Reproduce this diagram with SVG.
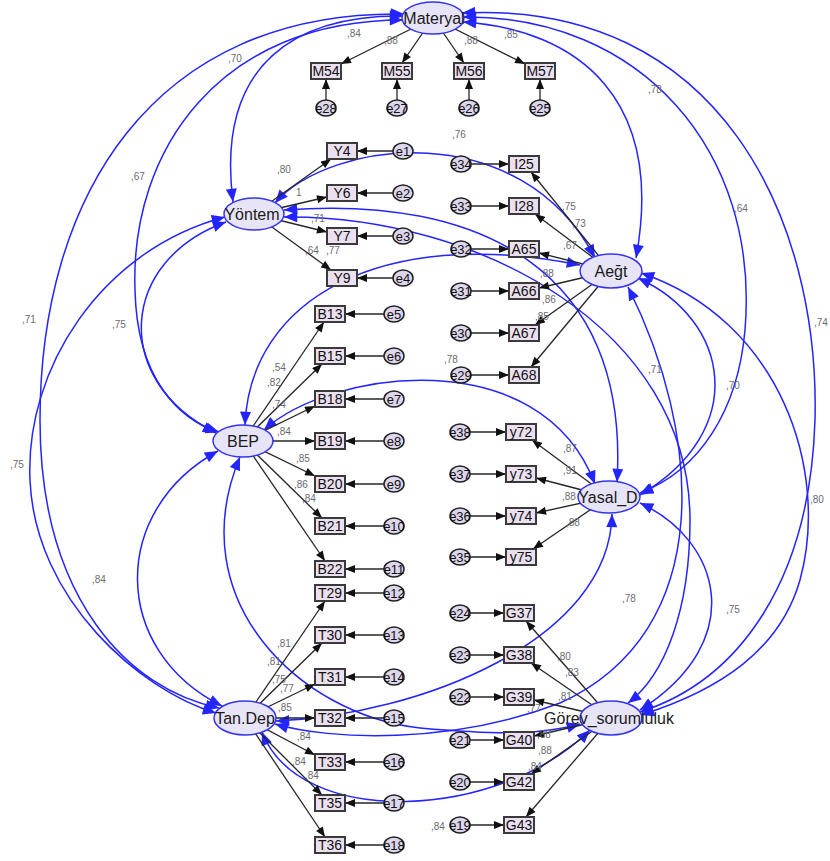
<svg xmlns="http://www.w3.org/2000/svg" width="830" height="861" viewBox="0 0 830 861">
<defs>
<style>
text{font-family:"Liberation Sans",Arial,sans-serif}
.cov{fill:none;stroke:#2424ff;stroke-width:1.5;marker-start:url(#ab);marker-end:url(#ab)}
.ld{stroke:#262626;stroke-width:1.3;marker-end:url(#ak)}
.ind rect{fill:#ebe0f0;stroke:#3a3a3a;stroke-width:2}
.ind text{font-size:14px;fill:#111;text-anchor:middle}
.lat ellipse{fill:#e8e4f7;stroke:#3434f0;stroke-width:1.5}
.lat text{font-size:16px;fill:#1a1a1a;text-anchor:middle}
.err ellipse{fill:#ddd6ec;stroke:#222;stroke-width:1.5}
.err text{font-size:13px;fill:#111;text-anchor:middle}
.num{font-size:10px;fill:#6a6a72}
</style>
<marker id="ab" viewBox="0 0 12 10" refX="12" refY="5" markerWidth="14" markerHeight="11" markerUnits="userSpaceOnUse" orient="auto-start-reverse"><path d="M0,0 L12,5 L0,10 z" fill="#2424ff"/></marker>
<marker id="ak" viewBox="0 0 10 8" refX="10" refY="4" markerWidth="11" markerHeight="8" markerUnits="userSpaceOnUse" orient="auto"><path d="M0,0 L10,4 L0,8 z" fill="#111"/></marker>
</defs>
<rect width="830" height="861" fill="#fff"/>
<g id="connectors">
<g id="covariances">
<path class="cov" d="M403 16 C300 15,215 60,233 202"/>
<path class="cov" d="M403 20 C220 20,130 150,135 290 C137 380,180 420,219 432"/>
<path class="cov" d="M404 14 C150 10,40 200,40 420 C40 600,130 690,219 708"/>
<path class="cov" d="M463 22 C580 30,665 100,636 258"/>
<path class="cov" d="M463 17 C640 15,760 150,745 330 C738 410,700 470,640 493"/>
<path class="cov" d="M462 13 C720 0,820 220,815 420 C810 580,740 680,640 712"/>
<path class="cov" d="M275 203 C330 140,520 115,595 258"/>
<path class="cov" d="M284 210 C480 195,630 270,617 482"/>
<path class="cov" d="M284 217 C480 215,690 330,690 520 C690 610,665 675,628 703"/>
<path class="cov" d="M226 222 C120 260,110 380,216 433"/>
<path class="cov" d="M225 217 C100 250,25 370,30 480 C35 600,140 690,216 713"/>
<path class="cov" d="M580 265 C380 225,250 300,245 425"/>
<path class="cov" d="M638 278 C730 320,750 430,640 495"/>
<path class="cov" d="M628 287 C700 430,720 630,560 703 C450 745,330 740,275 724"/>
<path class="cov" d="M641 273 C780 320,830 470,800 580 C780 650,720 690,641 715"/>
<path class="cov" d="M264 430 C330 370,540 340,595 484"/>
<path class="cov" d="M218 451 C110 510,110 650,222 706"/>
<path class="cov" d="M240 457 C180 600,300 715,420 728 C500 735,540 735,580 724"/>
<path class="cov" d="M276 721 C420 715,610 640,612 514"/>
<path class="cov" d="M640 503 C720 540,750 640,640 710"/>
<path class="cov" d="M262 732 C300 830,500 820,590 730"/>
</g>
<g id="loadings">
<line class="ld" x1="433" y1="18" x2="341" y2="64"/>
<line class="ld" x1="433" y1="18" x2="402" y2="63"/>
<line class="ld" x1="433" y1="18" x2="464" y2="63"/>
<line class="ld" x1="433" y1="18" x2="525" y2="64"/>
<line class="ld" x1="254" y1="214" x2="331" y2="159"/>
<line class="ld" x1="254" y1="214" x2="327" y2="197"/>
<line class="ld" x1="254" y1="214" x2="327" y2="232"/>
<line class="ld" x1="254" y1="214" x2="331" y2="270"/>
<line class="ld" x1="243" y1="441" x2="324" y2="322"/>
<line class="ld" x1="243" y1="441" x2="322" y2="364"/>
<line class="ld" x1="243" y1="441" x2="315" y2="406"/>
<line class="ld" x1="243" y1="441" x2="315" y2="441"/>
<line class="ld" x1="243" y1="441" x2="315" y2="476"/>
<line class="ld" x1="243" y1="441" x2="322" y2="518"/>
<line class="ld" x1="243" y1="441" x2="325" y2="561"/>
<line class="ld" x1="245" y1="718" x2="325" y2="601"/>
<line class="ld" x1="245" y1="718" x2="322" y2="643"/>
<line class="ld" x1="245" y1="718" x2="315" y2="684"/>
<line class="ld" x1="245" y1="718" x2="315" y2="718"/>
<line class="ld" x1="245" y1="718" x2="315" y2="755"/>
<line class="ld" x1="245" y1="718" x2="322" y2="795"/>
<line class="ld" x1="245" y1="718" x2="325" y2="837"/>
<line class="ld" x1="611" y1="271" x2="531" y2="172"/>
<line class="ld" x1="611" y1="271" x2="535" y2="214"/>
<line class="ld" x1="611" y1="271" x2="539" y2="253"/>
<line class="ld" x1="611" y1="271" x2="539" y2="288"/>
<line class="ld" x1="611" y1="271" x2="535" y2="325"/>
<line class="ld" x1="611" y1="271" x2="531" y2="367"/>
<line class="ld" x1="609" y1="497" x2="532" y2="440"/>
<line class="ld" x1="609" y1="497" x2="536" y2="478"/>
<line class="ld" x1="609" y1="497" x2="536" y2="513"/>
<line class="ld" x1="609" y1="497" x2="533" y2="549"/>
<line class="ld" x1="611" y1="718" x2="526" y2="621"/>
<line class="ld" x1="611" y1="718" x2="531" y2="663"/>
<line class="ld" x1="611" y1="718" x2="534" y2="700"/>
<line class="ld" x1="611" y1="718" x2="534" y2="736"/>
<line class="ld" x1="611" y1="718" x2="531" y2="774"/>
<line class="ld" x1="611" y1="718" x2="526" y2="817"/>
</g>
<g id="error-paths">
<line class="ld" x1="326" y1="100" x2="326" y2="79"/>
<line class="ld" x1="397" y1="100" x2="397" y2="79"/>
<line class="ld" x1="469" y1="100" x2="469" y2="79"/>
<line class="ld" x1="540" y1="100" x2="540" y2="79"/>
<line class="ld" x1="393" y1="151" x2="357" y2="151"/>
<line class="ld" x1="393" y1="193" x2="357" y2="193"/>
<line class="ld" x1="393" y1="236" x2="357" y2="236"/>
<line class="ld" x1="393" y1="278" x2="357" y2="278"/>
<line class="ld" x1="384" y1="314" x2="345" y2="314"/>
<line class="ld" x1="384" y1="356" x2="345" y2="356"/>
<line class="ld" x1="384" y1="399" x2="345" y2="399"/>
<line class="ld" x1="384" y1="441" x2="345" y2="441"/>
<line class="ld" x1="384" y1="484" x2="345" y2="484"/>
<line class="ld" x1="384" y1="526" x2="345" y2="526"/>
<line class="ld" x1="384" y1="569" x2="345" y2="569"/>
<line class="ld" x1="384" y1="593" x2="345" y2="593"/>
<line class="ld" x1="384" y1="635" x2="345" y2="635"/>
<line class="ld" x1="384" y1="677" x2="345" y2="677"/>
<line class="ld" x1="384" y1="718" x2="345" y2="718"/>
<line class="ld" x1="384" y1="762" x2="345" y2="762"/>
<line class="ld" x1="384" y1="803" x2="345" y2="803"/>
<line class="ld" x1="384" y1="845" x2="345" y2="845"/>
<line class="ld" x1="471" y1="164" x2="509" y2="164"/>
<line class="ld" x1="471" y1="206" x2="509" y2="206"/>
<line class="ld" x1="471" y1="249" x2="509" y2="249"/>
<line class="ld" x1="471" y1="291" x2="509" y2="291"/>
<line class="ld" x1="471" y1="333" x2="509" y2="333"/>
<line class="ld" x1="471" y1="375" x2="509" y2="375"/>
<line class="ld" x1="470" y1="432" x2="506" y2="432"/>
<line class="ld" x1="470" y1="474" x2="506" y2="474"/>
<line class="ld" x1="470" y1="516" x2="506" y2="516"/>
<line class="ld" x1="470" y1="557" x2="506" y2="557"/>
<line class="ld" x1="470" y1="613" x2="504" y2="613"/>
<line class="ld" x1="470" y1="655" x2="504" y2="655"/>
<line class="ld" x1="470" y1="697" x2="504" y2="697"/>
<line class="ld" x1="470" y1="740" x2="504" y2="740"/>
<line class="ld" x1="470" y1="782" x2="504" y2="782"/>
<line class="ld" x1="470" y1="825" x2="504" y2="825"/>
</g>
<g id="labels" class="num">
<text x="228" y="62">,70</text>
<text x="131" y="180">,67</text>
<text x="22" y="323">,71</text>
<text x="648" y="93">,78</text>
<text x="734" y="212">,64</text>
<text x="814" y="326">,74</text>
<text x="452" y="138">,76</text>
<text x="112" y="328">,75</text>
<text x="10" y="468">,75</text>
<text x="726" y="389">,70</text>
<text x="648" y="373">,71</text>
<text x="810" y="503">,80</text>
<text x="444" y="363">,78</text>
<text x="92" y="583">,84</text>
<text x="622" y="602">,78</text>
<text x="726" y="613">,75</text>
<text x="431" y="830">,84</text>
<text x="347" y="37">,84</text>
<text x="384" y="44">,88</text>
<text x="464" y="44">,88</text>
<text x="504" y="38">,85</text>
<text x="277" y="173">,80</text>
<text x="296" y="196">1</text>
<text x="311" y="222">,71</text>
<text x="305" y="254">,64</text>
<text x="326" y="254">,77</text>
<text x="272" y="371">,54</text>
<text x="267" y="386">,82</text>
<text x="272" y="408">,74</text>
<text x="277" y="435">,84</text>
<text x="296" y="462">,85</text>
<text x="294" y="488">,86</text>
<text x="302" y="502">,84</text>
<text x="277" y="647">,81</text>
<text x="267" y="665">,81</text>
<text x="272" y="683">,75</text>
<text x="280" y="692">,77</text>
<text x="278" y="711">,85</text>
<text x="297" y="740">,84</text>
<text x="292" y="765">,84</text>
<text x="305" y="779">,84</text>
<text x="562" y="210">,75</text>
<text x="572" y="227">,73</text>
<text x="563" y="249">,67</text>
<text x="540" y="277">,88</text>
<text x="542" y="303">,86</text>
<text x="535" y="320">,85</text>
<text x="563" y="452">,87</text>
<text x="563" y="474">,91</text>
<text x="562" y="500">,88</text>
<text x="566" y="526">,88</text>
<text x="557" y="660">,80</text>
<text x="565" y="676">,83</text>
<text x="558" y="700">,81</text>
<text x="527" y="712">,77</text>
<text x="537" y="738">,88</text>
<text x="538" y="754">,88</text>
<text x="528" y="770">,84</text>
</g>
</g>
<g id="Materyal" class="lat"><ellipse cx="433" cy="18" rx="31" ry="16"/><text x="434" y="24">Materyal</text></g>
<g id="Yontem" class="lat"><ellipse cx="254" cy="214" rx="30" ry="16"/><text x="252" y="220">Yöntem</text></g>
<g id="Aegt" class="lat"><ellipse cx="611" cy="271" rx="31" ry="17"/><text x="611" y="277">Aeğt</text></g>
<g id="BEP" class="lat"><ellipse cx="243" cy="441" rx="30" ry="16"/><text x="243" y="447">BEP</text></g>
<g id="Yasal_D" class="lat"><ellipse cx="609" cy="497" rx="31" ry="16"/><text x="608" y="503">Yasal_D</text></g>
<g id="TanDep" class="lat"><ellipse cx="245" cy="718" rx="31" ry="17"/><text x="245" y="724">Tan.Dep</text></g>
<g id="Gorev_sorumluluk" class="lat"><ellipse cx="611" cy="718" rx="31" ry="17"/><text x="609" y="724">Görev_sorumluluk</text></g>
<g id="M54" class="ind"><rect x="311" y="63" width="30" height="16"/><text x="326" y="76">M54</text></g>
<g id="M55" class="ind"><rect x="382" y="63" width="30" height="16"/><text x="397" y="76">M55</text></g>
<g id="M56" class="ind"><rect x="454" y="63" width="30" height="16"/><text x="469" y="76">M56</text></g>
<g id="M57" class="ind"><rect x="525" y="63" width="30" height="16"/><text x="540" y="76">M57</text></g>
<g id="Y4" class="ind"><rect x="327" y="143" width="30" height="16"/><text x="342" y="156">Y4</text></g>
<g id="Y6" class="ind"><rect x="327" y="185" width="30" height="16"/><text x="342" y="198">Y6</text></g>
<g id="Y7" class="ind"><rect x="327" y="228" width="30" height="16"/><text x="342" y="241">Y7</text></g>
<g id="Y9" class="ind"><rect x="327" y="270" width="30" height="16"/><text x="342" y="283">Y9</text></g>
<g id="B13" class="ind"><rect x="315" y="306" width="30" height="16"/><text x="330" y="319">B13</text></g>
<g id="B15" class="ind"><rect x="315" y="348" width="30" height="16"/><text x="330" y="361">B15</text></g>
<g id="B18" class="ind"><rect x="315" y="391" width="30" height="16"/><text x="330" y="404">B18</text></g>
<g id="B19" class="ind"><rect x="315" y="433" width="30" height="16"/><text x="330" y="446">B19</text></g>
<g id="B20" class="ind"><rect x="315" y="476" width="30" height="16"/><text x="330" y="489">B20</text></g>
<g id="B21" class="ind"><rect x="315" y="518" width="30" height="16"/><text x="330" y="531">B21</text></g>
<g id="B22" class="ind"><rect x="315" y="561" width="30" height="16"/><text x="330" y="574">B22</text></g>
<g id="T29" class="ind"><rect x="315" y="585" width="30" height="16"/><text x="330" y="598">T29</text></g>
<g id="T30" class="ind"><rect x="315" y="627" width="30" height="16"/><text x="330" y="640">T30</text></g>
<g id="T31" class="ind"><rect x="315" y="669" width="30" height="16"/><text x="330" y="682">T31</text></g>
<g id="T32" class="ind"><rect x="315" y="710" width="30" height="16"/><text x="330" y="723">T32</text></g>
<g id="T33" class="ind"><rect x="315" y="754" width="30" height="16"/><text x="330" y="767">T33</text></g>
<g id="T35" class="ind"><rect x="315" y="795" width="30" height="16"/><text x="330" y="808">T35</text></g>
<g id="T36" class="ind"><rect x="315" y="837" width="30" height="16"/><text x="330" y="850">T36</text></g>
<g id="I25" class="ind"><rect x="509" y="156" width="30" height="16"/><text x="524" y="169">I25</text></g>
<g id="I28" class="ind"><rect x="509" y="198" width="30" height="16"/><text x="524" y="211">I28</text></g>
<g id="A65" class="ind"><rect x="509" y="241" width="30" height="16"/><text x="524" y="254">A65</text></g>
<g id="A66" class="ind"><rect x="509" y="283" width="30" height="16"/><text x="524" y="296">A66</text></g>
<g id="A67" class="ind"><rect x="509" y="325" width="30" height="16"/><text x="524" y="338">A67</text></g>
<g id="A68" class="ind"><rect x="509" y="367" width="30" height="16"/><text x="524" y="380">A68</text></g>
<g id="y72" class="ind"><rect x="506" y="424" width="30" height="16"/><text x="521" y="437">y72</text></g>
<g id="y73" class="ind"><rect x="506" y="466" width="30" height="16"/><text x="521" y="479">y73</text></g>
<g id="y74" class="ind"><rect x="506" y="508" width="30" height="16"/><text x="521" y="521">y74</text></g>
<g id="y75" class="ind"><rect x="506" y="549" width="30" height="16"/><text x="521" y="562">y75</text></g>
<g id="G37" class="ind"><rect x="504" y="605" width="30" height="16"/><text x="519" y="618">G37</text></g>
<g id="G38" class="ind"><rect x="504" y="647" width="30" height="16"/><text x="519" y="660">G38</text></g>
<g id="G39" class="ind"><rect x="504" y="689" width="30" height="16"/><text x="519" y="702">G39</text></g>
<g id="G40" class="ind"><rect x="504" y="732" width="30" height="16"/><text x="519" y="745">G40</text></g>
<g id="G42" class="ind"><rect x="504" y="774" width="30" height="16"/><text x="519" y="787">G42</text></g>
<g id="G43" class="ind"><rect x="504" y="817" width="30" height="16"/><text x="519" y="830">G43</text></g>
<g id="e28" class="err"><ellipse cx="326" cy="108" rx="10" ry="8"/><text x="326" y="113">e28</text></g>
<g id="e27" class="err"><ellipse cx="397" cy="108" rx="10" ry="8"/><text x="397" y="113">e27</text></g>
<g id="e26" class="err"><ellipse cx="469" cy="108" rx="10" ry="8"/><text x="469" y="113">e26</text></g>
<g id="e25" class="err"><ellipse cx="540" cy="108" rx="10" ry="8"/><text x="540" y="113">e25</text></g>
<g id="e1" class="err"><ellipse cx="403" cy="151" rx="10" ry="8"/><text x="403" y="156">e1</text></g>
<g id="e2" class="err"><ellipse cx="403" cy="193" rx="10" ry="8"/><text x="403" y="198">e2</text></g>
<g id="e3" class="err"><ellipse cx="403" cy="236" rx="10" ry="8"/><text x="403" y="241">e3</text></g>
<g id="e4" class="err"><ellipse cx="403" cy="278" rx="10" ry="8"/><text x="403" y="283">e4</text></g>
<g id="e5" class="err"><ellipse cx="394" cy="314" rx="10" ry="8"/><text x="394" y="319">e5</text></g>
<g id="e6" class="err"><ellipse cx="394" cy="356" rx="10" ry="8"/><text x="394" y="361">e6</text></g>
<g id="e7" class="err"><ellipse cx="394" cy="399" rx="10" ry="8"/><text x="394" y="404">e7</text></g>
<g id="e8" class="err"><ellipse cx="394" cy="441" rx="10" ry="8"/><text x="394" y="446">e8</text></g>
<g id="e9" class="err"><ellipse cx="394" cy="484" rx="10" ry="8"/><text x="394" y="489">e9</text></g>
<g id="e10" class="err"><ellipse cx="394" cy="526" rx="10" ry="8"/><text x="394" y="531">e10</text></g>
<g id="e11" class="err"><ellipse cx="394" cy="569" rx="10" ry="8"/><text x="394" y="574">e11</text></g>
<g id="e12" class="err"><ellipse cx="394" cy="593" rx="10" ry="8"/><text x="394" y="598">e12</text></g>
<g id="e13" class="err"><ellipse cx="394" cy="635" rx="10" ry="8"/><text x="394" y="640">e13</text></g>
<g id="e14" class="err"><ellipse cx="394" cy="677" rx="10" ry="8"/><text x="394" y="682">e14</text></g>
<g id="e15" class="err"><ellipse cx="394" cy="718" rx="10" ry="8"/><text x="394" y="723">e15</text></g>
<g id="e16" class="err"><ellipse cx="394" cy="762" rx="10" ry="8"/><text x="394" y="767">e16</text></g>
<g id="e17" class="err"><ellipse cx="394" cy="803" rx="10" ry="8"/><text x="394" y="808">e17</text></g>
<g id="e18" class="err"><ellipse cx="394" cy="845" rx="10" ry="8"/><text x="394" y="850">e18</text></g>
<g id="e34" class="err"><ellipse cx="461" cy="164" rx="10" ry="8"/><text x="461" y="169">e34</text></g>
<g id="e33" class="err"><ellipse cx="461" cy="206" rx="10" ry="8"/><text x="461" y="211">e33</text></g>
<g id="e32" class="err"><ellipse cx="461" cy="249" rx="10" ry="8"/><text x="461" y="254">e32</text></g>
<g id="e31" class="err"><ellipse cx="461" cy="291" rx="10" ry="8"/><text x="461" y="296">e31</text></g>
<g id="e30" class="err"><ellipse cx="461" cy="333" rx="10" ry="8"/><text x="461" y="338">e30</text></g>
<g id="e29" class="err"><ellipse cx="461" cy="375" rx="10" ry="8"/><text x="461" y="380">e29</text></g>
<g id="e38" class="err"><ellipse cx="460" cy="432" rx="10" ry="8"/><text x="460" y="437">e38</text></g>
<g id="e37" class="err"><ellipse cx="460" cy="474" rx="10" ry="8"/><text x="460" y="479">e37</text></g>
<g id="e36" class="err"><ellipse cx="460" cy="516" rx="10" ry="8"/><text x="460" y="521">e36</text></g>
<g id="e35" class="err"><ellipse cx="460" cy="557" rx="10" ry="8"/><text x="460" y="562">e35</text></g>
<g id="e24" class="err"><ellipse cx="460" cy="613" rx="10" ry="8"/><text x="460" y="618">e24</text></g>
<g id="e23" class="err"><ellipse cx="460" cy="655" rx="10" ry="8"/><text x="460" y="660">e23</text></g>
<g id="e22" class="err"><ellipse cx="460" cy="697" rx="10" ry="8"/><text x="460" y="702">e22</text></g>
<g id="e21" class="err"><ellipse cx="460" cy="740" rx="10" ry="8"/><text x="460" y="745">e21</text></g>
<g id="e20" class="err"><ellipse cx="460" cy="782" rx="10" ry="8"/><text x="460" y="787">e20</text></g>
<g id="e19" class="err"><ellipse cx="460" cy="825" rx="10" ry="8"/><text x="460" y="830">e19</text></g>
</svg>
